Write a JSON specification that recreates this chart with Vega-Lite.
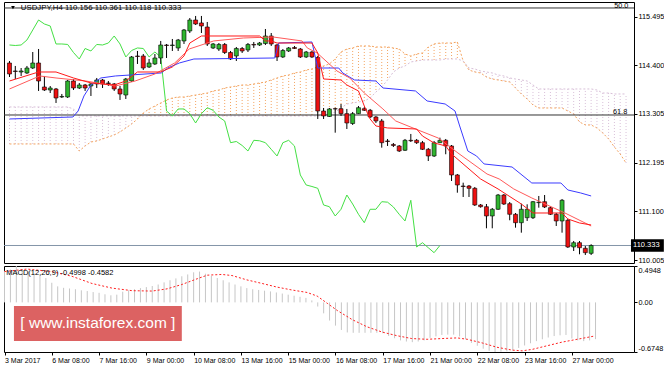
{
"$schema": "https://vega.github.io/schema/vega-lite/v6.json",
"background": "white",
"padding": {"left": 2, "top": 1, "right": 0, "bottom": 0},
"spacing": 3,
"bounds": "flush",
"config": {
  "view": {"stroke": "#000000", "strokeWidth": 1},
  "font": "Liberation Sans",
  "axis": {"labelFont": "Liberation Sans", "labelFontSize": 7.3, "labelColor": "#000000", "tickColor": "#000000", "domain": false, "grid": false, "title": null}
},
"datasets": {
"candles": [
{"i":0,"o":114.450,"h":114.495,"l":114.134,"c":114.202,"k":114.856,"m":0.429},
{"i":1,"o":114.270,"h":114.383,"l":114.089,"c":114.259,"k":114.845,"m":0.448},
{"i":2,"o":114.247,"h":114.337,"l":114.157,"c":114.270,"k":114.856,"m":0.4948},
{"i":3,"o":114.225,"h":114.383,"l":114.202,"c":114.337,"k":114.969,"m":0.453},
{"i":4,"o":114.337,"h":114.698,"l":114.315,"c":114.450,"k":115.195,"m":0.419},
{"i":5,"o":114.450,"h":114.766,"l":113.819,"c":114.044,"k":115.420,"m":0.394},
{"i":6,"o":113.909,"h":114.157,"l":113.819,"c":113.841,"k":115.330,"m":0.370},
{"i":7,"o":113.841,"h":113.931,"l":113.773,"c":113.886,"k":115.285,"m":0.331},
{"i":8,"o":113.864,"h":113.886,"l":113.548,"c":113.661,"k":114.879,"m":0.267},
{"i":9,"o":113.683,"h":113.751,"l":113.661,"c":113.695,"k":114.879,"m":0.218},
{"i":10,"o":113.683,"h":114.067,"l":113.661,"c":114.044,"k":114.868,"m":0.198},
{"i":11,"o":114.044,"h":114.089,"l":113.841,"c":113.886,"k":114.687,"m":0.189},
{"i":12,"o":113.886,"h":113.999,"l":113.864,"c":113.954,"k":114.540,"m":0.179},
{"i":13,"o":113.954,"h":113.977,"l":113.819,"c":113.886,"k":114.777,"m":0.164},
{"i":14,"o":113.931,"h":113.999,"l":113.706,"c":113.977,"k":114.721,"m":0.154},
{"i":15,"o":113.977,"h":114.112,"l":113.886,"c":114.067,"k":114.868,"m":0.140},
{"i":16,"o":114.067,"h":114.089,"l":113.886,"c":113.977,"k":114.856,"m":0.130},
{"i":17,"o":113.999,"h":114.044,"l":113.931,"c":113.988,"k":114.901,"m":0.110},
{"i":18,"o":113.977,"h":113.999,"l":113.819,"c":113.864,"k":115.059,"m":0.096},
{"i":19,"o":113.864,"h":113.931,"l":113.616,"c":113.751,"k":114.879,"m":0.105},
{"i":20,"o":113.728,"h":114.112,"l":113.638,"c":114.089,"k":114.586,"m":0.145},
{"i":21,"o":114.044,"h":114.608,"l":114.022,"c":114.586,"k":114.732,"m":0.164},
{"i":22,"o":114.608,"h":114.721,"l":114.428,"c":114.597,"k":114.789,"m":0.179},
{"i":23,"o":114.608,"h":114.653,"l":114.292,"c":114.337,"k":114.777,"m":0.194},
{"i":24,"o":114.360,"h":114.540,"l":114.337,"c":114.450,"k":114.586,"m":0.208},
{"i":25,"o":114.428,"h":114.653,"l":114.405,"c":114.563,"k":114.698,"m":0.223},
{"i":26,"o":114.563,"h":114.947,"l":114.428,"c":114.856,"k":114.586,"m":0.243},
{"i":27,"o":114.856,"h":114.879,"l":114.563,"c":114.845,"k":113.367,"m":0.272},
{"i":28,"o":114.845,"h":114.992,"l":114.721,"c":114.856,"k":113.255,"m":0.301},
{"i":29,"o":114.789,"h":114.992,"l":114.721,"c":114.969,"k":113.413,"m":0.326},
{"i":30,"o":114.947,"h":115.217,"l":114.879,"c":115.195,"k":113.413,"m":0.355},
{"i":31,"o":115.172,"h":115.465,"l":115.127,"c":115.420,"k":113.307,"m":0.380},
{"i":32,"o":115.420,"h":115.511,"l":115.308,"c":115.330,"k":113.097,"m":0.409},
{"i":33,"o":115.353,"h":115.511,"l":115.127,"c":115.285,"k":113.307,"m":0.419},
{"i":34,"o":115.262,"h":115.375,"l":114.834,"c":114.879,"k":113.442,"m":0.390},
{"i":35,"o":114.789,"h":114.901,"l":114.766,"c":114.879,"k":113.383,"m":0.360},
{"i":36,"o":114.766,"h":114.901,"l":114.721,"c":114.868,"k":113.232,"m":0.331},
{"i":37,"o":114.868,"h":114.901,"l":114.653,"c":114.687,"k":113.142,"m":0.301},
{"i":38,"o":114.687,"h":114.721,"l":114.518,"c":114.540,"k":112.652,"m":0.272},
{"i":39,"o":114.608,"h":114.811,"l":114.495,"c":114.777,"k":112.679,"m":0.243},
{"i":40,"o":114.777,"h":114.811,"l":114.676,"c":114.721,"k":112.589,"m":0.218},
{"i":41,"o":114.744,"h":114.901,"l":114.698,"c":114.868,"k":112.465,"m":0.194},
{"i":42,"o":114.868,"h":114.924,"l":114.789,"c":114.856,"k":112.706,"m":0.179},
{"i":43,"o":114.856,"h":114.924,"l":114.834,"c":114.901,"k":112.695,"m":0.169},
{"i":44,"o":114.890,"h":115.217,"l":114.856,"c":115.059,"k":112.652,"m":0.159},
{"i":45,"o":115.059,"h":115.127,"l":114.834,"c":114.879,"k":112.503,"m":0.149},
{"i":46,"o":114.856,"h":114.879,"l":114.495,"c":114.586,"k":112.352,"m":0.135},
{"i":47,"o":114.586,"h":114.766,"l":114.563,"c":114.732,"k":112.652,"m":0.120},
{"i":48,"o":114.721,"h":114.811,"l":114.698,"c":114.789,"k":112.706,"m":0.105},
{"i":49,"o":114.800,"h":114.834,"l":114.766,"c":114.777,"k":112.578,"m":0.091},
{"i":50,"o":114.766,"h":114.789,"l":114.563,"c":114.586,"k":111.924,"m":0.076},
{"i":51,"o":114.586,"h":114.721,"l":114.563,"c":114.698,"k":111.698,"m":0.061},
{"i":52,"o":114.698,"h":114.721,"l":114.563,"c":114.586,"k":111.664,"m":0.027},
{"i":53,"o":114.574,"h":114.608,"l":113.187,"c":113.367,"k":111.623,"m":-0.056},
{"i":54,"o":113.367,"h":113.435,"l":113.187,"c":113.255,"k":111.247,"m":-0.149},
{"i":55,"o":113.243,"h":113.435,"l":113.232,"c":113.413,"k":111.208,"m":-0.247},
{"i":56,"o":113.419,"h":113.442,"l":112.878,"c":113.413,"k":110.999,"m":-0.316},
{"i":57,"o":113.419,"h":113.525,"l":113.255,"c":113.307,"k":111.150,"m":-0.375},
{"i":58,"o":113.307,"h":113.413,"l":112.961,"c":113.097,"k":111.472,"m":-0.409},
{"i":59,"o":113.085,"h":113.345,"l":113.052,"c":113.307,"k":111.269,"m":-0.414},
{"i":60,"o":113.307,"h":113.480,"l":113.300,"c":113.442,"k":111.037,"m":-0.414},
{"i":61,"o":113.419,"h":113.458,"l":113.367,"c":113.383,"k":110.847,"m":-0.414},
{"i":62,"o":113.383,"h":113.413,"l":113.209,"c":113.232,"k":111.150,"m":-0.414},
{"i":63,"o":113.232,"h":113.255,"l":113.097,"c":113.142,"k":111.150,"m":-0.414},
{"i":64,"o":113.142,"h":113.187,"l":112.540,"c":112.652,"k":111.321,"m":-0.419},
{"i":65,"o":112.691,"h":112.736,"l":112.578,"c":112.679,"k":111.310,"m":-0.458},
{"i":66,"o":112.612,"h":112.645,"l":112.555,"c":112.589,"k":111.202,"m":-0.488},
{"i":67,"o":112.578,"h":112.600,"l":112.442,"c":112.465,"k":111.037,"m":-0.517},
{"i":68,"o":112.481,"h":112.736,"l":112.465,"c":112.706,"k":110.886,"m":-0.532},
{"i":69,"o":112.706,"h":112.849,"l":112.668,"c":112.695,"k":111.353,"m":-0.541},
{"i":70,"o":112.706,"h":112.736,"l":112.623,"c":112.652,"k":110.299,"m":-0.532},
{"i":71,"o":112.652,"h":112.691,"l":112.488,"c":112.503,"k":110.396,"m":-0.517},
{"i":72,"o":112.503,"h":112.533,"l":112.239,"c":112.352,"k":110.283,"m":-0.483},
{"i":73,"o":112.352,"h":112.691,"l":112.330,"c":112.652,"k":110.171,"m":-0.463},
{"i":74,"o":112.652,"h":112.765,"l":112.645,"c":112.706,"k":110.333,"m":-0.443},
{"i":75,"o":112.706,"h":112.736,"l":112.391,"c":112.578,"m":-0.439},
{"i":76,"o":112.578,"h":112.600,"l":111.788,"c":111.924,"m":-0.439},
{"i":77,"o":111.924,"h":111.946,"l":111.524,"c":111.698,"m":-0.463},
{"i":78,"o":111.675,"h":111.750,"l":111.427,"c":111.664,"m":-0.502},
{"i":79,"o":111.675,"h":111.698,"l":111.427,"c":111.623,"m":-0.551},
{"i":80,"o":111.623,"h":111.653,"l":111.224,"c":111.247,"m":-0.590},
{"i":81,"o":111.247,"h":111.269,"l":111.186,"c":111.208,"m":-0.630},
{"i":82,"o":111.208,"h":111.269,"l":110.721,"c":110.999,"m":-0.659},
{"i":83,"o":110.999,"h":111.179,"l":110.721,"c":111.150,"m":-0.6748},
{"i":84,"o":111.150,"h":111.495,"l":111.134,"c":111.472,"m":-0.670},
{"i":85,"o":111.472,"h":111.495,"l":111.247,"c":111.269,"m":-0.665},
{"i":86,"o":111.276,"h":111.314,"l":110.902,"c":111.037,"m":-0.654},
{"i":87,"o":111.037,"h":111.066,"l":110.735,"c":110.847,"m":-0.620},
{"i":88,"o":110.847,"h":111.276,"l":110.622,"c":111.150,"m":-0.586},
{"i":89,"o":110.960,"h":111.262,"l":110.886,"c":111.150,"m":-0.556},
{"i":90,"o":110.960,"h":111.337,"l":110.931,"c":111.321,"m":-0.527},
{"i":91,"o":111.299,"h":111.450,"l":111.186,"c":111.310,"m":-0.502},
{"i":92,"o":111.321,"h":111.472,"l":111.179,"c":111.202,"m":-0.478},
{"i":93,"o":111.186,"h":111.224,"l":111.021,"c":111.037,"m":-0.458},
{"i":94,"o":111.037,"h":111.066,"l":110.773,"c":110.886,"m":-0.448},
{"i":95,"o":110.886,"h":111.382,"l":110.622,"c":111.353,"m":-0.443},
{"i":96,"o":110.902,"h":110.931,"l":110.277,"c":110.299,"m":-0.492},
{"i":97,"o":110.299,"h":110.435,"l":110.209,"c":110.396,"m":-0.517},
{"i":98,"o":110.396,"h":110.435,"l":110.135,"c":110.283,"m":-0.527},
{"i":99,"o":110.270,"h":110.322,"l":110.119,"c":110.171,"m":-0.517},
{"i":100,"o":110.156,"h":110.361,"l":110.118,"c":110.333,"m":-0.4998}
],
"cloud": [
{"i":0,"a":112.623,"b":113.458},{"i":1,"a":112.623,"b":113.458},{"i":2,"a":112.623,"b":113.458},{"i":3,"a":112.623,"b":113.458},
{"i":4,"a":112.623,"b":113.458},{"i":5,"a":112.623,"b":113.458},{"i":6,"a":112.623,"b":113.458},{"i":7,"a":112.623,"b":113.458},
{"i":8,"a":112.623,"b":113.458},{"i":9,"a":112.623,"b":113.458},{"i":10,"a":112.623,"b":113.458},{"i":11,"a":112.623,"b":113.413},
{"i":12,"a":112.465,"b":113.255},{"i":13,"a":112.578,"b":113.255},{"i":14,"a":112.668,"b":113.255},{"i":15,"a":112.691,"b":113.255},
{"i":16,"a":112.736,"b":113.255},{"i":17,"a":112.781,"b":113.255},{"i":18,"a":112.826,"b":113.255},{"i":19,"a":112.894,"b":113.255},
{"i":20,"a":112.984,"b":113.255},{"i":21,"a":113.074,"b":113.255},{"i":22,"a":113.187,"b":113.255},{"i":23,"a":113.322,"b":113.255},
{"i":24,"a":113.413,"b":113.255},{"i":25,"a":113.480,"b":113.255},{"i":26,"a":113.548,"b":113.255},{"i":27,"a":113.616,"b":113.255},
{"i":28,"a":113.661,"b":113.255},{"i":29,"a":113.683,"b":113.255},{"i":30,"a":113.683,"b":113.255},{"i":31,"a":113.706,"b":113.255},
{"i":32,"a":113.728,"b":113.255},{"i":33,"a":113.751,"b":113.255},{"i":34,"a":113.773,"b":113.255},{"i":35,"a":113.819,"b":113.255},
{"i":36,"a":113.841,"b":113.255},{"i":37,"a":113.886,"b":113.255},{"i":38,"a":113.909,"b":113.255},{"i":39,"a":113.931,"b":113.255},
{"i":40,"a":113.954,"b":113.255},{"i":41,"a":113.954,"b":113.255},{"i":42,"a":113.977,"b":113.255},{"i":43,"a":113.999,"b":113.255},
{"i":44,"a":114.022,"b":113.255},{"i":45,"a":114.067,"b":113.255},{"i":46,"a":114.112,"b":113.255},{"i":47,"a":114.157,"b":113.255},
{"i":48,"a":114.180,"b":113.255},{"i":49,"a":114.225,"b":113.255},{"i":50,"a":114.247,"b":113.255},{"i":51,"a":114.292,"b":113.255},
{"i":52,"a":114.315,"b":113.255},{"i":53,"a":114.360,"b":113.255},{"i":54,"a":114.383,"b":113.277},{"i":55,"a":114.428,"b":113.300},
{"i":56,"a":114.541,"b":113.345},{"i":57,"a":114.698,"b":113.435},{"i":58,"a":114.766,"b":113.525},{"i":59,"a":114.789,"b":113.548},
{"i":60,"a":114.834,"b":113.570},{"i":61,"a":114.834,"b":113.593},{"i":62,"a":114.834,"b":113.661},{"i":63,"a":114.811,"b":113.796},
{"i":64,"a":114.811,"b":113.909},{"i":65,"a":114.811,"b":114.067},{"i":66,"a":114.789,"b":114.247},{"i":67,"a":114.766,"b":114.337},
{"i":68,"a":114.653,"b":114.383},{"i":69,"a":114.608,"b":114.473},{"i":70,"a":114.653,"b":114.495},{"i":71,"a":114.676,"b":114.518},
{"i":72,"a":114.811,"b":114.518},{"i":73,"a":114.879,"b":114.518},{"i":74,"a":114.901,"b":114.518},{"i":75,"a":114.901,"b":114.541},
{"i":76,"a":114.901,"b":114.541},{"i":77,"a":114.924,"b":114.541},{"i":78,"a":114.495,"b":114.495},{"i":79,"a":114.292,"b":114.337},
{"i":80,"a":114.247,"b":114.315},{"i":81,"a":114.225,"b":114.270},{"i":82,"a":114.134,"b":114.247},{"i":83,"a":114.089,"b":114.225},
{"i":84,"a":114.067,"b":114.180},{"i":85,"a":114.044,"b":114.157},{"i":86,"a":114.022,"b":114.112},{"i":87,"a":113.886,"b":114.089},
{"i":88,"a":113.751,"b":114.067},{"i":89,"a":113.638,"b":114.044},{"i":90,"a":113.503,"b":113.954},{"i":91,"a":113.435,"b":113.864},
{"i":92,"a":113.435,"b":113.864},{"i":93,"a":113.435,"b":113.864},{"i":94,"a":113.435,"b":113.864},{"i":95,"a":113.435,"b":113.864},
{"i":96,"a":113.367,"b":113.864},{"i":97,"a":113.300,"b":113.864},{"i":98,"a":113.119,"b":113.864},{"i":99,"a":113.052,"b":113.864},
{"i":100,"a":113.052,"b":113.864},{"i":101,"a":112.984,"b":113.841},{"i":102,"a":112.871,"b":113.773},{"i":103,"a":112.736,"b":113.773},
{"i":104,"a":112.555,"b":113.751},{"i":105,"a":112.397,"b":113.751},{"i":106,"a":112.194,"b":113.751}
],
"tenkan": [
{"i":0,"v":114.044},{"i":5,"v":114.247},{"i":8,"v":114.247},{"i":11,"v":114.112},{"i":14,"v":114.000},{"i":18,"v":113.954},
{"i":20,"v":114.044},{"i":22,"v":114.247},{"i":26,"v":114.247},{"i":28,"v":114.360},{"i":30,"v":114.608},{"i":31,"v":114.901},
{"i":33,"v":115.059},{"i":43,"v":115.059},{"i":44,"v":114.947},{"i":45,"v":114.947},{"i":46,"v":114.901},{"i":52,"v":114.901},
{"i":53,"v":114.676},{"i":54,"v":114.089},{"i":57,"v":114.067},{"i":58,"v":113.954},{"i":60,"v":113.819},{"i":61,"v":113.480},
{"i":62,"v":113.187},{"i":63,"v":113.029},{"i":65,"v":112.984},{"i":70,"v":112.961},{"i":71,"v":112.803},{"i":73,"v":112.646},
{"i":75,"v":112.578},{"i":76,"v":112.398},{"i":81,"v":111.833},{"i":84,"v":111.608},{"i":88,"v":111.269},{"i":90,"v":111.066},
{"i":95,"v":111.066},{"i":96,"v":110.931},{"i":98,"v":110.841},{"i":100,"v":110.796}
],
"ma": [
{"i":0,"v":113.864},{"i":5.2,"v":114.157},{"i":8,"v":114.112},{"i":13.1,"v":114.044},{"i":18.2,"v":113.931},{"i":21.6,"v":114.044},
{"i":25,"v":114.202},{"i":28.4,"v":114.450},{"i":30.9,"v":114.766},{"i":35.1,"v":114.947},{"i":40.2,"v":115.014},{"i":45.3,"v":115.037},
{"i":50.3,"v":114.947},{"i":51.2,"v":114.789},{"i":52.9,"v":114.676},{"i":56.3,"v":114.270},{"i":58.5,"v":114.112},{"i":61,"v":113.774},
{"i":64.2,"v":113.413},{"i":66.4,"v":113.142},{"i":69.8,"v":112.961},{"i":73.7,"v":112.758},{"i":77.1,"v":112.420},{"i":82.1,"v":111.946},
{"i":84.2,"v":111.833},{"i":86.7,"v":111.608},{"i":89.8,"v":111.405},{"i":95.5,"v":111.066},{"i":100,"v":110.773}
],
"kijun": [
{"i":0,"v":113.187},{"i":10.9,"v":113.232},{"i":11.8,"v":113.367},{"i":12.8,"v":113.706},{"i":14,"v":113.954},{"i":15.7,"v":114.112},
{"i":18.2,"v":114.157},{"i":26.1,"v":114.225},{"i":27.2,"v":114.337},{"i":29.2,"v":114.450},{"i":31.7,"v":114.540},{"i":45.6,"v":114.563},
{"i":46.3,"v":114.901},{"i":52,"v":114.924},{"i":53,"v":114.337},{"i":56.6,"v":114.337},{"i":57.3,"v":114.225},{"i":59.3,"v":114.067},
{"i":63,"v":114.044},{"i":64.2,"v":113.886},{"i":69.8,"v":113.819},{"i":71.8,"v":113.593},{"i":74.9,"v":113.525},{"i":76.6,"v":113.367},
{"i":77.4,"v":113.029},{"i":78.8,"v":112.465},{"i":80.3,"v":112.352},{"i":81.6,"v":112.172},{"i":86.4,"v":112.104},{"i":89.8,"v":111.743},
{"i":94.8,"v":111.743},{"i":96,"v":111.585},{"i":98.2,"v":111.518},{"i":100,"v":111.450}
],
"signal": [
{"i":0,"v":0.419},{"i":3.8,"v":0.453},{"i":8,"v":0.419},{"i":11.4,"v":0.355},{"i":14.8,"v":0.257},{"i":18.2,"v":0.194},
{"i":21.6,"v":0.159},{"i":25,"v":0.154},{"i":27.5,"v":0.184},{"i":30,"v":0.243},{"i":32.6,"v":0.321},{"i":34.3,"v":0.370},
{"i":36.8,"v":0.380},{"i":38.5,"v":0.365},{"i":41,"v":0.306},{"i":43.6,"v":0.257},{"i":46.1,"v":0.208},{"i":48.6,"v":0.169},
{"i":51.2,"v":0.135},{"i":52.9,"v":0.086},{"i":54.6,"v":-0.012},{"i":56.3,"v":-0.110},{"i":58.8,"v":-0.233},{"i":61.3,"v":-0.331},
{"i":63.9,"v":-0.404},{"i":66.4,"v":-0.453},{"i":68.9,"v":-0.492},{"i":71.5,"v":-0.502},{"i":74,"v":-0.492},{"i":76.6,"v":-0.483},
{"i":78.3,"v":-0.502},{"i":80.8,"v":-0.551},{"i":83.3,"v":-0.610},{"i":85.9,"v":-0.649},{"i":87.6,"v":-0.659},{"i":89.3,"v":-0.639},
{"i":91.8,"v":-0.590},{"i":94.3,"v":-0.541},{"i":96.9,"v":-0.502},{"i":99.8,"v":-0.4582}
]
},
"vconcat": [
{
 "width": 630, "height": 261,
 "layer": [
  {"data": {"name": "cloud"}, "mark": {"type": "rule", "strokeDash": [1, 2], "strokeWidth": 1},
   "encoding": {
    "x": {"field": "i", "type": "quantitative", "scale": {"domain": [-0.085, 106.51], "nice": false, "zero": false}, "axis": null},
    "y": {"field": "a", "type": "quantitative", "scale": {"domain": [109.938, 115.826], "nice": false, "zero": false}, "title": null,
          "axis": {"orient": "right", "values": [115.495, 114.955, 114.4, 113.845, 113.305, 112.75, 112.195, 111.655, 111.1, 110.545, 110.005], "format": ".3f", "tickSize": 3, "labelPadding": 1, "labelBaseline": "middle"}},
    "y2": {"field": "b"},
    "color": {"condition": {"test": "datum.a >= datum.b", "value": "#f4a460"}, "value": "#d8bfd8"}
   }},
  {"data": {"name": "cloud"}, "mark": {"type": "line", "strokeDash": [2, 2], "strokeWidth": 1, "color": "#f4a460"},
   "encoding": {"x": {"field": "i", "type": "quantitative", "axis": null}, "y": {"field": "a", "type": "quantitative"}}},
  {"data": {"name": "cloud"}, "mark": {"type": "line", "strokeDash": [2, 2], "strokeWidth": 1, "color": "#d8bfd8"},
   "encoding": {"x": {"field": "i", "type": "quantitative", "axis": null}, "y": {"field": "b", "type": "quantitative"}}},
  {"data": {"values": [{"lvl": "50.0", "p": 115.691}, {"lvl": "61.8", "p": 113.277}]}, "mark": {"type": "rule", "color": "#333333", "strokeWidth": 1},
   "encoding": {"y": {"field": "p", "type": "quantitative"}}},
  {"data": {"values": [{"p": 110.333}]}, "mark": {"type": "rule", "color": "#8495a8", "strokeWidth": 1},
   "encoding": {"y": {"field": "p", "type": "quantitative"}}},
  {"data": {"name": "candles"}, "mark": {"type": "line", "color": "#44e044", "strokeWidth": 1},
   "encoding": {"x": {"field": "i", "type": "quantitative", "axis": null}, "y": {"field": "k", "type": "quantitative"}}},
  {"data": {"name": "candles"}, "mark": {"type": "rule", "color": "#000000", "strokeWidth": 1},
   "encoding": {"x": {"field": "i", "type": "quantitative", "axis": null}, "y": {"field": "l", "type": "quantitative"}, "y2": {"field": "h"}}},
  {"data": {"name": "candles"}, "mark": {"type": "bar", "orient": "vertical", "size": 4, "stroke": "#000000", "strokeWidth": 0.6},
   "encoding": {"x": {"field": "i", "type": "quantitative", "axis": null}, "y": {"field": "o", "type": "quantitative"}, "y2": {"field": "c"},
    "fill": {"condition": {"test": "datum.c >= datum.o", "value": "#2fb52f"}, "value": "#ee1111"}}},
  {"data": {"name": "kijun"}, "mark": {"type": "line", "color": "#3b3bff", "strokeWidth": 1},
   "encoding": {"x": {"field": "i", "type": "quantitative", "axis": null}, "y": {"field": "v", "type": "quantitative"}}},
  {"data": {"name": "ma"}, "mark": {"type": "line", "color": "#ff5a5a", "strokeWidth": 1},
   "encoding": {"x": {"field": "i", "type": "quantitative", "axis": null}, "y": {"field": "v", "type": "quantitative"}}},
  {"data": {"name": "tenkan"}, "mark": {"type": "line", "color": "#ff1a1a", "strokeWidth": 1},
   "encoding": {"x": {"field": "i", "type": "quantitative", "axis": null}, "y": {"field": "v", "type": "quantitative"}}},
  {"data": {"values": [{"i": 0.6, "p": 115.70}]}, "mark": {"type": "point", "shape": "triangle-down", "size": 14, "filled": true, "color": "#000000", "opacity": 1},
   "encoding": {"x": {"field": "i", "type": "quantitative", "axis": null}, "y": {"field": "p", "type": "quantitative"}}},
  {"data": {"values": [{"i": 1.95, "p": 115.70, "t": "USDJPY,H4  110.156 110.361 110.118 110.333"}]}, "mark": {"type": "text", "align": "left", "baseline": "middle", "fontSize": 7.8, "color": "#000000"},
   "encoding": {"x": {"field": "i", "type": "quantitative", "axis": null}, "y": {"field": "p", "type": "quantitative"}, "text": {"field": "t"}}},
  {"data": {"values": [{"i": 106.4, "p": 115.695, "t": "50.0"}, {"i": 106.2, "p": 113.30, "t": "61.8"}]}, "mark": {"type": "text", "align": "right", "baseline": "alphabetic", "fontSize": 7.3, "color": "#000000"},
   "encoding": {"x": {"field": "i", "type": "quantitative", "axis": null}, "y": {"field": "p", "type": "quantitative"}, "text": {"field": "t"}}},
  {"data": {"values": [{"x1": 106.85, "x2": 112.5, "y1": 110.193, "y2": 110.473}]}, "mark": {"type": "rect", "color": "#000000"},
   "encoding": {"x": {"field": "x1", "type": "quantitative", "axis": null}, "x2": {"field": "x2"}, "y": {"field": "y1", "type": "quantitative"}, "y2": {"field": "y2"}}},
  {"data": {"values": [{"i": 107.2, "p": 110.333, "t": "110.333"}]}, "mark": {"type": "text", "align": "left", "baseline": "middle", "fontSize": 7.5, "color": "#ffffff"},
   "encoding": {"x": {"field": "i", "type": "quantitative", "axis": null}, "y": {"field": "p", "type": "quantitative"}, "text": {"field": "t"}}}
 ]
},
{
 "width": 630, "height": 86,
 "layer": [
  {"data": {"name": "candles"}, "mark": {"type": "rule", "color": "#c6c6c6", "strokeWidth": 1},
   "encoding": {
    "x": {"field": "i", "type": "quantitative", "scale": {"domain": [-0.085, 106.51], "nice": false, "zero": false},
          "axis": {"orient": "bottom", "values": [0, 8, 16, 24, 32, 40, 48, 56, 64, 72, 80, 88, 96], "labelExpr": "['3 Mar 2017','6 Mar 08:00','7 Mar 16:00','9 Mar 00:00','10 Mar 08:00','13 Mar 16:00','15 Mar 00:00','16 Mar 08:00','17 Mar 16:00','21 Mar 00:00','22 Mar 08:00','23 Mar 16:00','27 Mar 00:00'][round(datum.value/8)]", "labelAlign": "left", "labelBaseline": "top", "labelFontSize": 7, "tickSize": 3, "labelPadding": 1, "labelFlush": false, "labelOverlap": false, "labelDx": -2}},
    "y": {"field": "m", "type": "quantitative", "scale": {"domain": [-0.6748, 0.4948], "nice": false, "zero": false}, "title": null,
          "axis": {"orient": "right", "values": [0.4948, 0, -0.6748], "labelExpr": "datum.value > 0.4 ? '0.4948' : (datum.value < -0.6 ? '-0.6748' : '0.00')", "tickSize": 3, "labelPadding": 1,
                   "labelBaseline": {"condition": [{"test": "datum.value > 0.4", "value": "top"}, {"test": "datum.value < -0.6", "value": "bottom"}], "value": "middle"}}},
    "y2": {"datum": 0}
   }},
  {"data": {"name": "signal"}, "mark": {"type": "line", "color": "#ff2020", "strokeWidth": 1, "strokeDash": [2, 2]},
   "encoding": {"x": {"field": "i", "type": "quantitative"}, "y": {"field": "v", "type": "quantitative"}}},
  {"data": {"values": [{"x1": 1.6, "x2": 30.0, "y1": -0.049, "y2": -0.525}]}, "mark": {"type": "rect", "color": "#d95555", "opacity": 0.92},
   "encoding": {"x": {"field": "x1", "type": "quantitative"}, "x2": {"field": "x2"}, "y": {"field": "y1", "type": "quantitative"}, "y2": {"field": "y2"}}},
  {"data": {"values": [{"i": 15.8, "v": -0.287, "t": "[  www.instaforex.com  ]"}]}, "mark": {"type": "text", "align": "center", "baseline": "middle", "fontSize": 15.5, "color": "#ffffff", "font": "Liberation Sans"},
   "encoding": {"x": {"field": "i", "type": "quantitative"}, "y": {"field": "v", "type": "quantitative"}, "text": {"field": "t"}}},
  {"data": {"values": [{"i": 0.3, "v": 0.40, "t": "MACD(12,26,9) -0.4998 -0.4582"}]}, "mark": {"type": "text", "align": "left", "baseline": "middle", "fontSize": 7.5, "color": "#000000"},
   "encoding": {"x": {"field": "i", "type": "quantitative"}, "y": {"field": "v", "type": "quantitative"}, "text": {"field": "t"}}}
 ]
}
]
}
